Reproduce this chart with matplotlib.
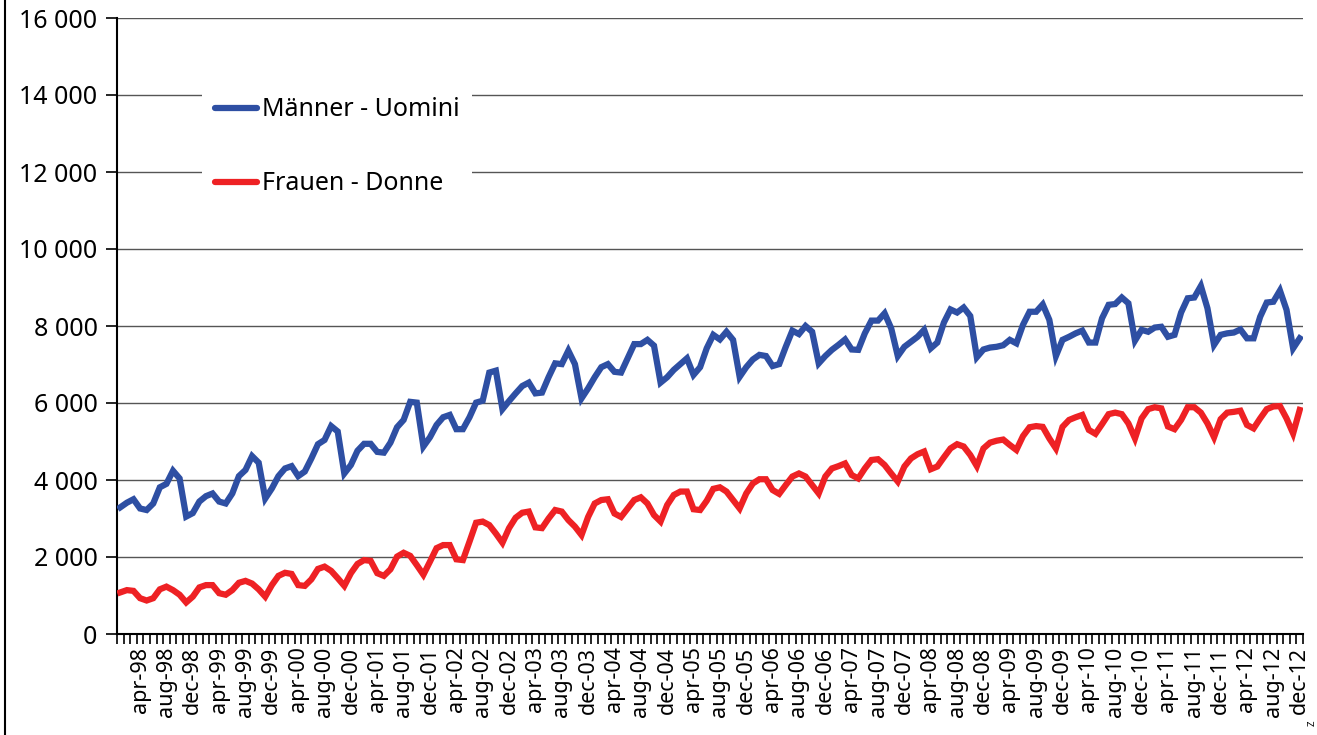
import numpy as np
import matplotlib.pyplot as plt
from matplotlib.lines import Line2D

plt.rcParams['font.family'] = ['Noto Sans', 'DejaVu Sans']

# monthly values jan-98 .. dec-12
men = [
    3290, 3410, 3500, 3260, 3220, 3390, 3810, 3900, 4240, 4040, 3050, 3140,
    3440, 3580, 3650, 3440, 3390, 3650, 4100, 4260, 4620, 4450, 3520, 3780,
    4100, 4300, 4360, 4100, 4220, 4560, 4930, 5040, 5400, 5260, 4170, 4390,
    4760, 4940, 4940, 4730, 4710, 4970, 5370, 5560, 6030, 6010, 4870, 5110,
    5430, 5630, 5690, 5320, 5320, 5630, 6010, 6060, 6790, 6840, 5840, 6050,
    6250, 6440, 6530, 6250, 6270, 6670, 7030, 7010, 7360, 7010, 6120, 6380,
    6670, 6930, 7010, 6810, 6790, 7160, 7530, 7530, 7640, 7490, 6530, 6670,
    6860, 7010, 7160, 6730, 6930, 7420, 7770, 7650, 7850, 7640, 6680, 6930,
    7130, 7250, 7220, 6960, 7010, 7460, 7880, 7790, 8000, 7850, 7030, 7220,
    7380, 7510, 7650, 7390, 7380, 7810, 8140, 8140, 8330, 7940, 7220, 7460,
    7590, 7720, 7900, 7420, 7570, 8090, 8430, 8350, 8480, 8260, 7190, 7390,
    7440, 7460, 7500, 7640, 7550, 8030, 8370, 8370, 8560, 8160, 7220, 7640,
    7720, 7810, 7880, 7570, 7570, 8200, 8550, 8570, 8740, 8590, 7620, 7900,
    7850, 7960, 7980, 7720, 7770, 8350, 8720, 8740, 9040, 8460, 7510, 7770,
    7810, 7830, 7910, 7680, 7680, 8240, 8610, 8630, 8920, 8420, 7420, 7680,
]
women = [
    1080, 1140, 1120, 930, 870, 930, 1160, 1230, 1140, 1020, 820, 970,
    1210, 1270, 1270, 1060, 1020, 1140, 1330, 1380, 1310, 1160, 970, 1270,
    1510, 1590, 1560, 1270, 1250, 1420, 1690, 1750, 1640, 1450, 1250, 1580,
    1820, 1920, 1900, 1580, 1510, 1680, 2010, 2110, 2030, 1790, 1540, 1880,
    2230, 2310, 2310, 1940, 1920, 2400, 2890, 2920, 2830, 2610, 2370, 2750,
    3020, 3150, 3180, 2770, 2750, 3000, 3220, 3180, 2960, 2790, 2570, 3040,
    3390, 3480, 3500, 3130, 3040, 3260, 3480, 3550, 3390, 3090, 2920, 3350,
    3610, 3700, 3700, 3240, 3220, 3460, 3770, 3810, 3700, 3480, 3260, 3650,
    3910, 4020, 4020, 3740, 3640, 3870, 4090, 4170, 4090, 3870, 3650, 4090,
    4300, 4360, 4430, 4130, 4040, 4300, 4520, 4540, 4390, 4170, 3960, 4350,
    4560, 4670, 4740, 4280, 4350, 4590, 4820, 4930, 4870, 4650, 4360, 4820,
    4970, 5020, 5050, 4910, 4780, 5140, 5370, 5400, 5380, 5080, 4820, 5380,
    5560, 5630, 5690, 5300, 5200, 5450, 5710, 5750, 5710, 5470, 5080, 5600,
    5840, 5890, 5860, 5390, 5320, 5560, 5890, 5890, 5750, 5470, 5110, 5580,
    5750, 5770, 5800, 5430, 5340, 5600, 5840, 5910, 5920, 5600, 5210, 5820,
]
month_names = ['jan', 'feb', 'mar', 'apr', 'mai', 'jun',
               'jul', 'aug', 'sep', 'oct', 'nov', 'dec']
years = ['98', '99', '00', '01', '02', '03', '04', '05',
         '06', '07', '08', '09', '10', '11', '12']
labels = [m + '-' + y for y in years for m in month_names]
y_ticks = [0, 2000, 4000, 6000, 8000, 10000, 12000, 14000, 16000]

blue = '#2e4fa3'
red = '#ee2124'

fig = plt.figure(figsize=(13.17, 7.35), dpi=100)
ax = fig.add_axes([117 / 1317, 101 / 735, 1186 / 1317, 616 / 735])

x = np.arange(len(men))
ax.plot(x, men, color=blue, lw=4.5, solid_joinstyle='miter', zorder=3)
ax.plot(x, women, color=red, lw=4.5, solid_joinstyle='miter', zorder=3)

ax.set_xlim(-0.5, len(men) - 0.5)
ax.set_ylim(0, 16000)

ax.set_yticks(y_ticks)
ax.set_yticklabels([f'{v:,}'.replace(',', ' ') for v in y_ticks], fontsize=18)
ax.yaxis.grid(True, color='#555555', lw=1)
ax.set_axisbelow(True)

# month ticks on category boundaries, labels every 4 months
ax.set_xticks(np.arange(-0.5, len(men), 1), minor=True)
lab_idx = np.arange(3, len(men), 4)
ax.set_xticks(lab_idx)
ax.set_xticklabels([labels[i] for i in lab_idx], rotation=90, fontsize=15.5)
ax.tick_params(axis='x', which='major', length=0, pad=9)
ax.tick_params(axis='x', which='minor', length=7, width=1.2, direction='out')
ax.tick_params(axis='y', length=8, width=1.2, direction='out', pad=6)

for s in ['top', 'right']:
    ax.spines[s].set_visible(False)
for s in ['left', 'bottom']:
    ax.spines[s].set_linewidth(1.5)

handles = [Line2D([], [], color=blue, lw=4.5, solid_capstyle='round'),
           Line2D([], [], color=red, lw=4.5, solid_capstyle='round')]
leg = ax.legend(handles, ['Männer - Uomini', 'Frauen - Donne'],
                loc='upper left', bbox_to_anchor=(85 / 1186, 549 / 616),
                fontsize=18, frameon=True, fancybox=False,
                handlelength=1.7, handletextpad=0.2, labelspacing=1.95,
                borderpad=0.5, borderaxespad=0)
leg.get_frame().set_facecolor('white')
leg.get_frame().set_edgecolor('none')
leg.get_frame().set_alpha(1)

fig.add_artist(Line2D([5 / 1317, 5 / 1317], [0, 1], color='black', lw=1.5))
fig.text(1312 / 1317, 12 / 735, 'Z', fontsize=7, rotation=90, ha='center', va='center')

fig.savefig('out.png', dpi=100)
